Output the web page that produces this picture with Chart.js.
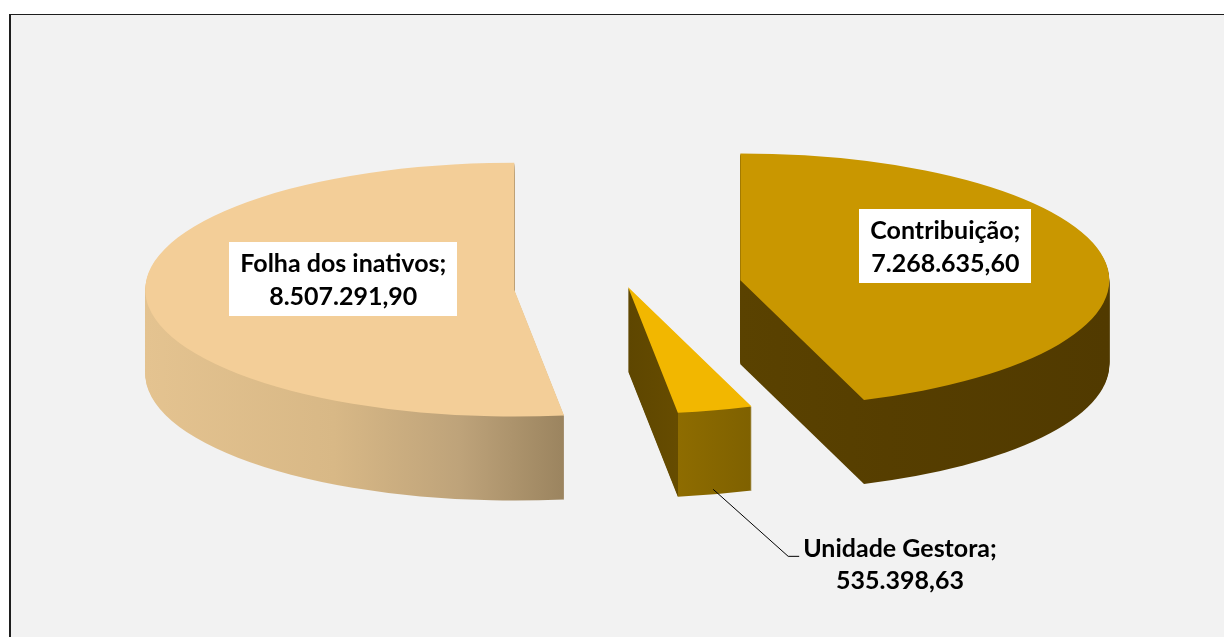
<!DOCTYPE html>
<html>
<head>
<meta charset="utf-8">
<script src="https://cdn.jsdelivr.net/npm/chart.js@4.4.0/dist/chart.umd.min.js"></script>
<style>
  html, body { margin: 0; padding: 0; background: #fff; overflow: hidden; }
  #frame {
    position: absolute; left: 9px; top: 14px; width: 1213px; height: 640px;
    background: #f2f2f2; border-left: 2px solid #1e1e1e; border-top: 1px solid #1e1e1e;
  }
  #c { position: absolute; left: 0; top: 0; }
</style>
</head>
<body>
<div id="frame"></div>
<canvas id="c" width="1225" height="637"></canvas>
<script>
// slices, in the order the pie is drawn (clockwise from 12 o'clock)
const categories = ['Contribuição', 'Unidade Gestora', 'Folha dos inativos'];
const values = [7268635.60, 535398.63, 8507291.90];
const topColors = ['#C99700', '#F2B700', '#F3CE98'];

function formatBR(v) {
    const parts = v.toFixed(2).split('.');
    return parts[0].replace(/\B(?=(\d{3})+(?!\d))/g, '.') + ',' + parts[1];
}

function slicePath(ctx, p) {
    ctx.beginPath();
    ctx.moveTo(p.x, p.y);
    ctx.arc(p.x, p.y, p.outerRadius, p.startAngle, p.endAngle);
    ctx.closePath();
}

// colour of the extruded walls, horizontal shading like the Excel 3D pie
function sideFill(ctx, i, p) {
    const r = p.outerRadius;
    const cs = Math.cos(p.startAngle), ce = Math.cos(p.endAngle);
    let g;
    if (i === 0) {
        g = ctx.createLinearGradient(p.x, 0, p.x + r, 0);
        g.addColorStop(0, '#5A4200');
        g.addColorStop(0.4, '#563E00');
        g.addColorStop(1, '#513A00');
    } else if (i === 1) {
        const t = ce / cs;
        g = ctx.createLinearGradient(p.x, 0, p.x + r * cs, 0);
        g.addColorStop(0, '#5E4600');
        g.addColorStop(t, '#664C00');
        g.addColorStop(t, '#8E6C00');
        g.addColorStop(1, '#7F6100');
    } else {
        g = ctx.createLinearGradient(p.x - r, 0, p.x + r * cs, 0);
        g.addColorStop(0, '#E4C390');
        g.addColorStop(0.45, '#D8B886');
        g.addColorStop(0.75, '#BEA37A');
        g.addColorStop(1, '#9B845F');
    }
    return g;
}

const pie3d = {
    id: 'pie3d',
    beforeDatasetsDraw(chart, args, opts) {
        const ctx = chart.ctx;
        const arcs = chart.getDatasetMeta(0).data;
        const centers = [];

        opts.order.forEach(i => {
            const arc = arcs[i];
            const p = arc.getProps(['x', 'y', 'startAngle', 'endAngle', 'outerRadius'], true);
            const mid = (p.startAngle + p.endAngle) / 2;
            const ex = Math.cos(mid) * opts.explode[i];
            const ey = Math.sin(mid) * opts.explode[i];
            const place = (dy) => {
                ctx.translate(p.x, p.y + dy);
                ctx.scale(1, opts.tilt);
                ctx.translate(-p.x + ex, -p.y + ey);
            };
            const fill = sideFill(ctx, i, p);
            for (let d = opts.depth; d >= 1; d -= 1) {
                ctx.save();
                place(d);
                slicePath(ctx, p);
                ctx.fillStyle = fill;
                ctx.fill();
                ctx.restore();
            }
            ctx.save();
            place(0);
            arc.draw(ctx);
            ctx.restore();

            centers[i] = { x: p.x + ex, y: p.y + ey * opts.tilt, p: p, mid: mid };
        });

        // data labels
        ctx.save();
        ctx.font = 'bold 25px Lato, "Open Sans", sans-serif';
        ctx.textAlign = 'center';
        ctx.textBaseline = 'alphabetic';
        const lh = 33;
        centers.forEach((c, i) => {
            const lines = [categories[i] + ';', formatBR(values[i])];
            const lab = opts.labels[i];
            if (lab.leader) {
                const sx = c.x + Math.cos(c.mid) * c.p.outerRadius - 2;
                const sy = c.y + Math.sin(c.mid) * c.p.outerRadius * opts.tilt + opts.depth - 5;
                const ex2 = sx + lab.leader[0], ey2 = sy + lab.leader[1];
                ctx.strokeStyle = '#000';
                ctx.lineWidth = 1;
                ctx.beginPath();
                ctx.moveTo(sx, sy);
                ctx.lineTo(ex2, ey2);
                ctx.lineTo(ex2 + 11, ey2);
                ctx.stroke();
                const w = ctx.measureText(lines[0]).width;
                const cx = ex2 + 15 + w / 2;
                ctx.fillStyle = '#000';
                ctx.fillText(lines[0], cx, ey2 + 1);
                ctx.fillText(lines[1], cx, ey2 + 1 + lh - 1);
            } else {
                const cx = c.x + lab.dx, cy = c.y + lab.dy;
                const w = Math.max(ctx.measureText(lines[0]).width, ctx.measureText(lines[1]).width) + 22;
                const h = 74;
                ctx.fillStyle = '#fff';
                ctx.fillRect(Math.round(cx - w / 2), Math.round(cy - h / 2), Math.round(w), h);
                ctx.fillStyle = '#000';
                ctx.fillText(lines[0], cx, cy - 7);
                ctx.fillText(lines[1], cx, cy - 7 + lh);
            }
        });
        ctx.restore();
        return false;
    }
};

new Chart(document.getElementById('c'), {
    type: 'pie',
    data: {
        labels: categories,
        datasets: [{
            data: values,
            backgroundColor: topColors,
            borderWidth: 0
        }]
    },
    options: {
        responsive: false,
        animation: false,
        radius: 369,
        layout: { padding: { left: 31, top: 0, right: 0, bottom: 63 } },
        plugins: {
            legend: { display: false },
            tooltip: { enabled: false },
            pie3d: {
                tilt: 0.344,
                depth: 84,
                explode: [114, 0, 114],
                order: [0, 2, 1],
                labels: [
                    { dx: 205, dy: -34 },
                    { leader: [75, 67] },
                    { dx: -171, dy: -11 }
                ]
            }
        }
    },
    plugins: [pie3d]
});
</script>
</body>
</html>
